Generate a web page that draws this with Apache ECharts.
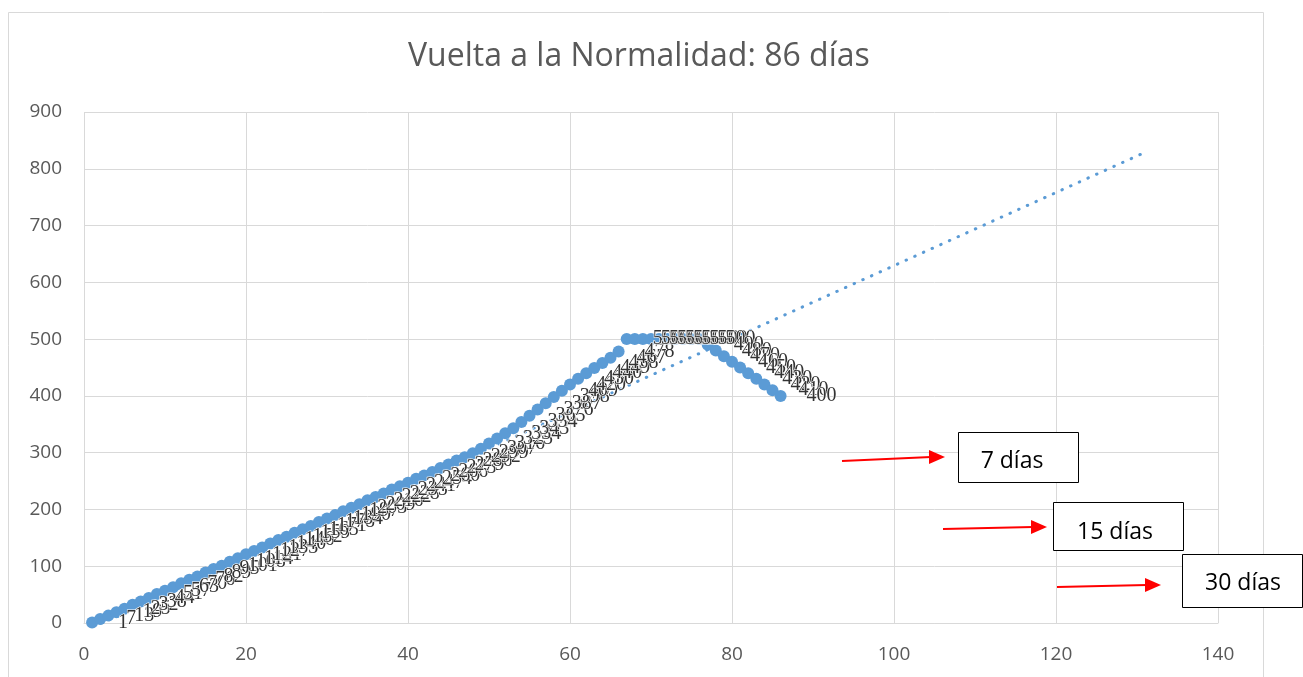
<!DOCTYPE html>
<html>
<head>
<meta charset="utf-8">
<script src="https://cdn.jsdelivr.net/npm/echarts@6/dist/echarts.min.js"></script>
<style>html,body{margin:0;padding:0;background:#fff}#c{width:1303px;height:677px}</style>
</head>
<body>
<div id="c"></div>
<script>
// Day index 1..86 and cumulative value
const days = [];
for (let i = 1; i <= 86; i++) days.push(i);
const values = [
  1, 7, 13, 19, 25, 32, 38, 44, 51, 57,
  63, 70, 76, 82, 89, 95, 101, 108, 114, 121,
  127, 133, 140, 146, 152, 159, 165, 171, 178, 184,
  190, 197, 203, 209, 216, 222, 228, 235, 241, 247,
  254, 260, 266, 273, 279, 286, 292, 299, 307, 316,
  325, 334, 343, 354, 365, 376, 387, 398, 409, 420,
  430, 440, 449, 458, 467, 478, 500, 500, 500, 500,
  500, 500, 500, 500, 500, 500, 490, 480, 470, 460,
  450, 440, 430, 420, 410, 400
];
// Linear trendline endpoints (forecast forward)
const trendX = [1, 131];
const trendY = [-8, 829];
const xTicks = [0, 20, 40, 60, 80, 100, 120, 140];
const yTicks = [0, 100, 200, 300, 400, 500, 600, 700, 800, 900];
const titleText = 'Vuelta a la Normalidad: 86 días';
const boxLabels = ['7 días', '15 días', '30 días'];

const points = days.map((d, i) => [d, values[i]]);
const trend = trendX.map((x, i) => [x, trendY[i]]);

const chart = echarts.init(document.getElementById('c'), null, {renderer: 'canvas'});
const axisText = {color: '#595959', fontSize: 19, fontFamily: 'Open Sans'};

function arrow(x1, y1, x2, y2) {
  return [
    {type: 'line', shape: {x1: x1, y1: y1, x2: x2 - 14, y2: y2}, style: {stroke: '#ff0000', lineWidth: 2}, z: 100},
    {type: 'polygon', shape: {points: [[x2, y2], [x2 - 16, y2 - 7], [x2 - 16, y2 + 7]]}, style: {fill: '#ff0000'}, z: 100}
  ];
}
function box(x, y, w, h, text, tx, ty) {
  return [
    {type: 'rect', shape: {x: x, y: y, width: w, height: h},
     style: {fill: '#fff', stroke: '#000', lineWidth: 1}, z: 100},
    {type: 'text', x: tx, y: ty, z: 101,
     style: {text: text, fontSize: 23, fontFamily: 'Open Sans', fill: '#000',
             textAlign: 'center', textVerticalAlign: 'middle', align: 'center', verticalAlign: 'middle'}}
  ];
}

chart.setOption({
  animation: false,
  backgroundColor: '#fff',
  title: {
    text: titleText, left: 403, top: 36,
    textStyle: {color: '#595959', fontSize: 32, fontWeight: 'normal', fontFamily: 'Open Sans'}
  },
  grid: {left: 84, right: 85, top: 112, bottom: 54, containLabel: false},
  xAxis: {
    type: 'value', min: xTicks[0], max: xTicks[xTicks.length - 1], interval: 20,
    axisLine: {show: true, lineStyle: {color: '#d9d9d9'}},
    axisTick: {show: false},
    axisLabel: Object.assign({margin: 22}, axisText),
    splitLine: {show: true, lineStyle: {color: '#d9d9d9', width: 1}}
  },
  yAxis: {
    type: 'value', min: yTicks[0], max: yTicks[yTicks.length - 1], interval: 100,
    axisLine: {show: false},
    axisTick: {show: false},
    axisLabel: Object.assign({margin: 22}, axisText),
    splitLine: {show: true, lineStyle: {color: '#d9d9d9', width: 1}}
  },
  series: [
    {
      type: 'line', data: trend, showSymbol: false, symbol: 'none', clip: true, z: 3,
      lineStyle: {color: '#5B9BD5', width: 3, type: [0.5, 9], cap: 'round'}
    },
    {
      type: 'scatter', data: points, symbol: 'circle', symbolSize: 12, z: 4,
      itemStyle: {color: '#5B9BD5', opacity: 1},
      label: {
        show: true, position: 'right', distance: 20,
        formatter: p => String(p.value[1]),
        color: '#333333', fontSize: 20, fontFamily: 'Liberation Serif',
        textBorderColor: '#ffffff', textBorderWidth: 1.2
      },
      labelLayout: {hideOverlap: false}
    }
  ],
  graphic: [
    {type: 'rect', shape: {x: 8.5, y: 12.5, width: 1255, height: 700}, style: {fill: 'none', stroke: '#d9d9d9', lineWidth: 1}, z: 0, silent: true}
  ].concat(
    arrow(842, 461, 945, 457),
    arrow(943, 529, 1047, 527),
    arrow(1057, 587, 1161, 585),
    box(958.5, 432.5, 120, 50, boxLabels[0], 1012, 461),
    box(1053.5, 502.5, 130, 48, boxLabels[1], 1115, 532),
    box(1182.5, 554.5, 120, 53, boxLabels[2], 1243, 583)
  )
});
</script>
</body>
</html>
